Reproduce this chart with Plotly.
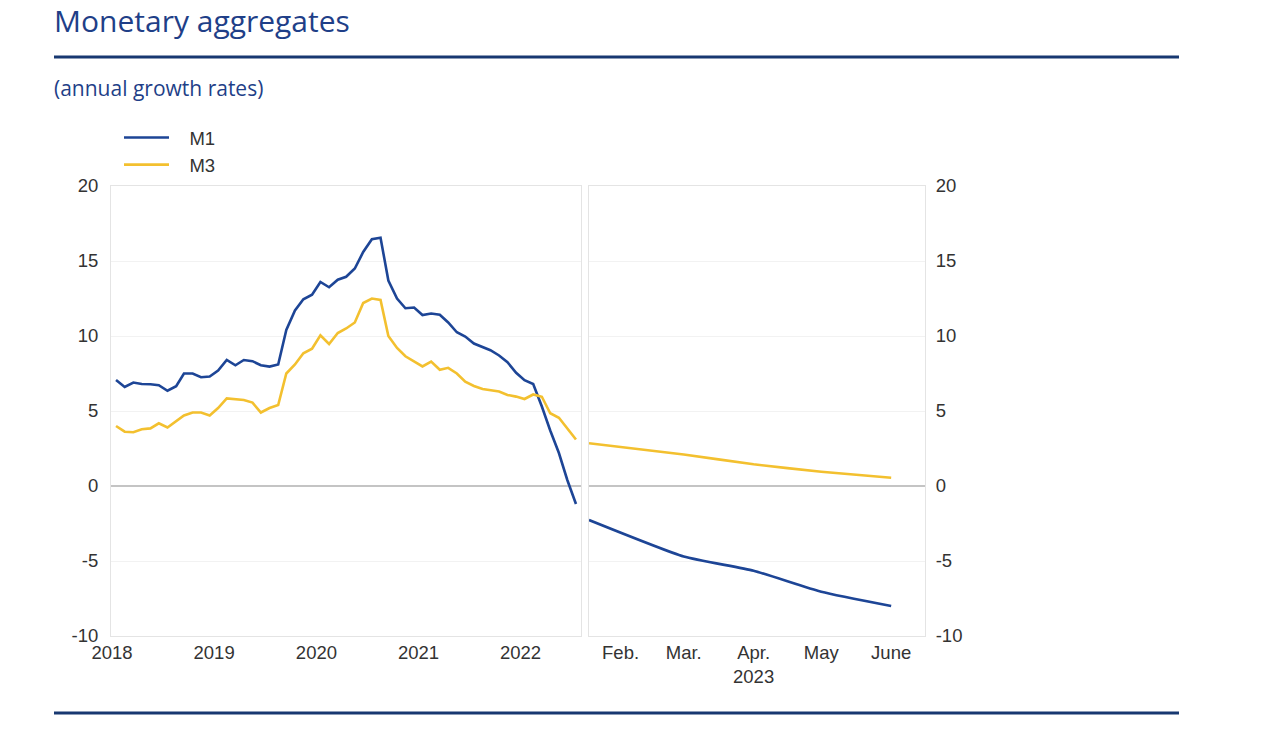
import plotly.graph_objects as go
import pandas as pd

W, H = 1272, 744

# ---------------- data ----------------
months_left = pd.date_range("2018-07-01", periods=55, freq="MS")
m1_left = [7.07, 6.6, 6.9, 6.8, 6.78, 6.72, 6.35, 6.65, 7.5, 7.5,
           7.25, 7.3, 7.7, 8.4, 8.05, 8.4, 8.32, 8.05, 7.96, 8.1,
           10.4, 11.7, 12.45, 12.75, 13.6, 13.25, 13.75, 13.95, 14.5, 15.6,
           16.45, 16.55, 13.7, 12.5, 11.85, 11.9, 11.4, 11.5, 11.42, 10.9,
           10.25, 9.96, 9.5, 9.28, 9.05, 8.7, 8.25, 7.55, 7.05, 6.8,
           5.3, 3.7, 2.2, 0.4, -1.2]
m3_left = [4.0, 3.62, 3.58, 3.78, 3.84, 4.18, 3.9, 4.3, 4.7, 4.9,
           4.9, 4.7, 5.2, 5.84, 5.78, 5.73, 5.56, 4.9, 5.2, 5.4,
           7.5, 8.1, 8.85, 9.15, 10.05, 9.47, 10.2, 10.5, 10.9, 12.2,
           12.5, 12.4, 10.0, 9.2, 8.65, 8.3, 7.97, 8.3, 7.75, 7.88,
           7.5, 6.95, 6.67, 6.47, 6.4, 6.3, 6.07, 5.96, 5.8, 6.1,
           5.95, 4.85, 4.55, 3.85, 3.1]

months_right = ["2023-01-18", "2023-03-01", "2023-04-01", "2023-05-01", "2023-06-01"]
m1_right = [-2.27, -4.7, -5.65, -7.05, -8.0]
m3_right = [2.85, 2.1, 1.45, 0.95, 0.55]

year_ticks = ["2018-07-01", "2019-07-01", "2020-07-01", "2021-07-01", "2022-07-01"]
year_labels = ["2018", "2019", "2020", "2021", "2022"]
month_ticks = ["2023-02-01", "2023-03-01", "2023-04-01", "2023-05-01", "2023-06-01"]
month_labels = ["Feb.", "Mar.", "Apr.<br>2023", "May", "June"]
y_ticks = [-10, -5, 0, 5, 10, 15, 20]
y_labels = ["-10", "-5", "0", "5", "10", "15", "20"]

# ---------------- style ----------------
BLUE = "#1d4596"
YELLOW = "#f3c02f"
NAVY = "#183871"
TITLE_BLUE = "#1f3f88"
TXT = "#333333"
SANS = "Liberation Sans, Arial, sans-serif"
TICKFONT = dict(family=SANS, size=18.5, color=TXT)
LEGEND_PAD = "\u00a0\u00a0\u00a0"


def px(x):
    return x / W


def py(y):
    return 1 - y / H


fig = go.Figure()
fig.add_trace(go.Scatter(x=months_left, y=m1_left, name=LEGEND_PAD + "M1", mode="lines",
                         line=dict(color=BLUE, width=2.6), xaxis="x", yaxis="y"))
fig.add_trace(go.Scatter(x=months_left, y=m3_left, name=LEGEND_PAD + "M3", mode="lines",
                         line=dict(color=YELLOW, width=2.6), xaxis="x", yaxis="y"))
fig.add_trace(go.Scatter(x=months_right, y=m1_right, name="M1", mode="lines",
                         line=dict(color=BLUE, width=2.6, shape="spline", smoothing=0.5),
                         xaxis="x2", yaxis="y2", showlegend=False))
fig.add_trace(go.Scatter(x=months_right, y=m3_right, name="M3", mode="lines",
                         line=dict(color=YELLOW, width=2.6, shape="spline", smoothing=0.5),
                         xaxis="x2", yaxis="y2", showlegend=False))

ydom = [py(636), py(186)]
common_y = dict(range=[-10, 20], tickvals=y_ticks, ticktext=y_labels, showgrid=True,
                gridcolor="#f2f2f2", gridwidth=1, zeroline=True, zerolinecolor="#c4c4c4",
                zerolinewidth=2, showline=True, mirror=True, linecolor="#e4e4e4",
                linewidth=1, ticks="", tickfont=TICKFONT, domain=ydom, fixedrange=True,
                automargin=False)
common_x = dict(type="date", showgrid=False, zeroline=False, showline=True, mirror=True,
                linecolor="#e4e4e4", linewidth=1, ticks="", tickfont=TICKFONT,
                fixedrange=True, ticklabelstandoff=0, automargin=False)

fig.update_layout(
    width=W, height=H,
    margin=dict(l=0, r=0, t=0, b=0, pad=0, autoexpand=False),
    paper_bgcolor="white", plot_bgcolor="white",
    xaxis=dict(common_x, domain=[px(111), px(581)], anchor="y",
               range=["2018-06-13", "2023-01-19"], tickvals=year_ticks,
               ticktext=year_labels, ticklabelshift=-4),
    yaxis=dict(common_y, anchor="x", side="left", ticklabelstandoff=8),
    xaxis2=dict(common_x, domain=[px(589), px(925)], anchor="y2",
                range=["2023-01-18", "2023-06-16"], tickvals=month_ticks,
                ticktext=month_labels),
    yaxis2=dict(common_y, anchor="x2", side="right", ticklabelstandoff=6),
    legend=dict(x=px(119), y=py(119), xanchor="left", yanchor="top",
                font=dict(family=SANS, size=18.5, color=TXT),
                bgcolor="rgba(0,0,0,0)", itemwidth=45, tracegroupgap=0),
    showlegend=True,
    annotations=[
        dict(text="Monetary aggregates", x=px(52), y=py(21), xref="paper", yref="paper",
             xanchor="left", yanchor="middle", showarrow=False,
             font=dict(family="Open Sans, sans-serif", size=30, color=TITLE_BLUE)),
        dict(text="(annual growth rates)", x=px(52), y=py(88), xref="paper", yref="paper",
             xanchor="left", yanchor="middle", showarrow=False,
             font=dict(family="Open Sans, sans-serif", size=21, color=TITLE_BLUE)),
    ],
    shapes=[
        dict(type="line", xref="paper", yref="paper", x0=px(54), x1=px(1179),
             y0=py(57), y1=py(57), line=dict(color=NAVY, width=3)),
        dict(type="line", xref="paper", yref="paper", x0=px(54), x1=px(1179),
             y0=py(713), y1=py(713), line=dict(color=NAVY, width=3)),
    ],
)

fig.write_html("out.html", config={"displayModeBar": False},
               post_script="document.body.style.margin='0';document.body.style.overflow='hidden';")
